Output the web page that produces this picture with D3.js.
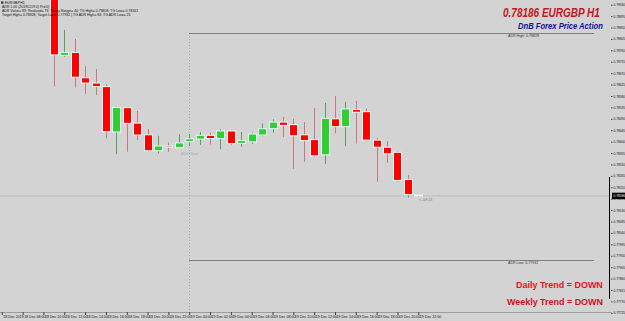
<!DOCTYPE html>
<html><head><meta charset="utf-8">
<script src="https://cdn.jsdelivr.net/npm/d3@7"></script>
<style>html,body{margin:0;padding:0;background:#d3d3d3;overflow:hidden}svg{display:block}</style>
</head><body>
<svg id="chart" width="625" height="321"></svg>
<script>
// ---- data ----
const times = ["2019-12-18T11:00","2019-12-18T12:00","2019-12-18T13:00","2019-12-18T14:00","2019-12-18T15:00","2019-12-18T16:00","2019-12-18T17:00","2019-12-18T18:00","2019-12-18T19:00","2019-12-18T20:00","2019-12-18T21:00","2019-12-18T22:00","2019-12-18T23:00",
"2019-12-19T00:00","2019-12-19T01:00","2019-12-19T02:00","2019-12-19T03:00","2019-12-19T04:00","2019-12-19T05:00","2019-12-19T06:00","2019-12-19T07:00","2019-12-19T08:00","2019-12-19T09:00","2019-12-19T10:00","2019-12-19T11:00","2019-12-19T12:00","2019-12-19T13:00","2019-12-19T14:00","2019-12-19T15:00","2019-12-19T16:00","2019-12-19T17:00","2019-12-19T18:00","2019-12-19T19:00","2019-12-19T20:00","2019-12-19T21:00","2019-12-19T22:00"];
const open  = [0.79000,0.78740,0.78752,0.78652,0.78631,0.78617,0.78438,0.78534,0.78473,0.78427,0.78364,0.78383,0.78376,0.78400,0.78410,0.78425,0.78412,0.78442,0.78393,0.78399,0.78426,0.78451,0.78477,0.78467,0.78427,0.78408,0.78348,0.78490,0.78459,0.78527,0.78518,0.78406,0.78378,0.78358,0.78251,0.78190];
const high  = [0.79020,0.78840,0.78805,0.78698,0.78686,0.78627,0.78538,0.78536,0.78521,0.78450,0.78423,0.78397,0.78429,0.78430,0.78438,0.78435,0.78449,0.78443,0.78438,0.78435,0.78471,0.78488,0.78498,0.78490,0.78477,0.78533,0.78553,0.78580,0.78556,0.78561,0.78530,0.78415,0.78402,0.78362,0.78268,0.78192];
const low   = [0.78617,0.78735,0.78614,0.78588,0.78584,0.78413,0.78351,0.78360,0.78406,0.78360,0.78354,0.78360,0.78374,0.78383,0.78387,0.78389,0.78370,0.78387,0.78380,0.78391,0.78421,0.78435,0.78419,0.78293,0.78321,0.78340,0.78312,0.78433,0.78383,0.78393,0.78403,0.78242,0.78317,0.78242,0.78179,0.78182];
const close = [0.78742,0.78752,0.78654,0.78631,0.78617,0.78439,0.78535,0.78472,0.78426,0.78364,0.78383,0.78378,0.78395,0.78411,0.78425,0.78412,0.78442,0.78392,0.78404,0.78430,0.78451,0.78477,0.78464,0.78423,0.78404,0.78344,0.78492,0.78459,0.78529,0.78516,0.78406,0.78378,0.78352,0.78247,0.78191,0.78186];
const priceTicks = [0.78940,0.78895,0.78850,0.78805,0.78760,0.78715,0.78670,0.78625,0.78580,0.78535,0.78490,0.78445,0.78400,0.78355,0.78310,0.78265,0.78220,0.78175,0.78130,0.78085,0.78040,0.77995,0.77950,0.77905,0.77860,0.77815,0.77770,0.77725];
const timeTicks = ["2019-12-18T06:00","2019-12-18T08:00","2019-12-18T10:00","2019-12-18T12:00","2019-12-18T14:00","2019-12-18T16:00","2019-12-18T18:00","2019-12-18T20:00","2019-12-18T22:00","2019-12-19T00:00","2019-12-19T02:00","2019-12-19T04:00","2019-12-19T06:00","2019-12-19T08:00","2019-12-19T10:00","2019-12-19T12:00","2019-12-19T14:00","2019-12-19T16:00","2019-12-19T18:00","2019-12-19T20:00","2019-12-19T22:00"];
const currentPrice = 0.78186;
const adrHigh = 0.78828, adrLow = 0.77932;
const adrStart = "2019-12-19T00:00";
const infoLines = ["EURGBP,H1","ADR 1.00 (20191219 0) Prd 0)","ADR Value= 89; Realized= 76; Today Range= 40; TG High= 0.78808; TG Low= 0.78161","Target High= 0.78828; Target Low= 0.77932 | TG ADR High= 84; TG ADR Low= 25"];

// ---- chart ----
const parse = d3.timeParse("%Y-%m-%dT%H:%M");
const bars = times.map((t,i)=>({t:parse(t),o:open[i],h:high[i],l:low[i],c:close[i]}));
const svg = d3.select("#chart");
const PW = 611, PH = 312;
const F = "'Liberation Sans', Arial, sans-serif";

svg.append("rect").attr("width",625).attr("height",321).attr("fill","#d3d3d3");

const x = d3.scaleTime().domain([parse(timeTicks[0]), parse(timeTicks[timeTicks.length-1])]).range([1.8, 418.3]);
const y = d3.scaleLinear().domain([0.77725, 0.78940]).range([312.8, 4.7]);

svg.append("clipPath").attr("id","clip").append("rect").attr("width",PW).attr("height",PH);
const plot = svg.append("g").attr("clip-path","url(#clip)");

// bid line
plot.append("line").attr("x1",0).attr("x2",PW).attr("y1",y(currentPrice)).attr("y2",y(currentPrice))
  .attr("stroke","#bcbcbc").attr("stroke-width",1);

// ADR start vertical
const xs = Math.round(x(parse(adrStart)))+0.5;
plot.append("line").attr("x1",xs).attr("x2",xs).attr("y1",y(adrHigh)).attr("y2",PH)
  .attr("stroke","#a4a4a4").attr("stroke-dasharray","1,2");
// ADR high/low
[adrHigh, adrLow].forEach(v=>{
  plot.append("line").attr("x1",xs).attr("x2",594).attr("y1",Math.round(y(v))+0.5).attr("y2",Math.round(y(v))+0.5)
    .attr("stroke","#2e2e2e").attr("stroke-dasharray","1,1");
});
plot.append("text").attr("x",508).attr("y",y(adrHigh)+4).attr("font-family",F).attr("font-size",3.6).attr("fill","#333")
  .text("ADR High: "+adrHigh.toFixed(5));
plot.append("text").attr("x",508).attr("y",y(adrLow)+4).attr("font-family",F).attr("font-size",3.6).attr("fill","#333")
  .text("ADR Low: "+adrLow.toFixed(5));
plot.append("text").attr("x",181).attr("y",154.5).attr("font-family",F).attr("font-size",3.8).attr("fill","#8fb4bf")
  .text("ADR Start");

// candles
const g = plot.selectAll("g.c").data(bars).join("g").attr("class","c");
g.append("line").attr("x1",d=>Math.round(x(d.t))+0.5).attr("x2",d=>Math.round(x(d.t))+0.5)
  .attr("y1",d=>y(d.h)).attr("y2",d=>y(d.l))
  .attr("stroke",d=>d.c>=d.o?"#5c9c5c":"#c87878").attr("stroke-width",1);
g.append("rect").attr("x",d=>Math.round(x(d.t))-3.5).attr("width",8)
  .attr("y",d=>y(Math.max(d.o,d.c))).attr("height",d=>Math.max(1,Math.abs(y(d.o)-y(d.c))))
  .attr("fill",d=>d.c>=d.o?"#32cd32":"#ff0000").attr("stroke","#e2fbfb").attr("stroke-width",1);

// timer label
plot.append("text").attr("x",x(bars[bars.length-1].t)+0.5).attr("y",y(currentPrice)+5.5).attr("font-family",F).attr("font-size",3.6).attr("fill","#777")
  .text("<--09:23");

// black range bar
plot.append("line").attr("x1",609.5).attr("x2",609.5).attr("y1",177).attr("y2",299).attr("stroke","#000").attr("stroke-width",1);

// info lines
infoLines.forEach((s,i)=>{
  svg.append("text").attr("x",i===0?5:2).attr("y",4.2+i*4).attr("font-family",F).attr("font-size",3.5).attr("fill","#111").text(s);
});
svg.append("rect").attr("x",1).attr("y",1.3).attr("width",2.5).attr("height",2.5).attr("fill","#444");

// titles: draw at natural size, then scale horizontally to the target width
function txt(s,xx,yy,size,col,len,italic){
  const t = svg.append("text").attr("x",0).attr("y",0).attr("font-family",F).attr("font-size",size)
   .attr("font-weight","bold").attr("font-style",italic?"italic":"normal").attr("fill",col).text(s);
  const w = t.node().getComputedTextLength();
  t.attr("transform",`translate(${xx},${yy}) scale(${len/w},1)`);
}
txt(currentPrice.toFixed(5)+" EURGBP H1",503,16.5,12,"#c3161c",97,true);
txt("DnB Forex Price Action",518,28.5,8.5,"#12128f",85,true);
txt("Daily Trend = DOWN",516,288,9.5,"#e8121b",87,false);
txt("Weekly Trend = DOWN",507,305,9.5,"#c8141e",96,false);

// frame
svg.append("line").attr("x1",0).attr("x2",PW).attr("y1",PH+0.5).attr("y2",PH+0.5).attr("stroke","#9c9c9c");

// axes
const fmt = d3.timeFormat("%-d %b %H:%M");
const xa = svg.append("g").attr("transform",`translate(0,${PH})`)
  .call(d3.axisBottom(x).tickValues(timeTicks.map(parse)).tickSize(3)
    .tickFormat((d,i)=> i===0 ? d3.timeFormat("%-d %b %Y")(d) : fmt(d)));
xa.select(".domain").remove();
xa.selectAll("line").attr("stroke","#444");
xa.selectAll("text").attr("text-anchor","start").attr("x",1).attr("y",3.2).attr("dy","0.9em")
  .attr("font-family",F).attr("font-size",3.6).attr("fill","#111");

const ya = svg.append("g").attr("transform",`translate(${PW},0)`)
  .call(d3.axisRight(y).tickValues(priceTicks).tickSize(1.5).tickFormat(d3.format(".5f")));
ya.select(".domain").remove();
ya.selectAll("line").attr("stroke","#444");
ya.selectAll("text").attr("x",2.5).attr("font-family",F).attr("font-size",3.2).attr("fill","#111");

// current price box
svg.append("rect").attr("x",612).attr("y",y(currentPrice)-3.2).attr("width",13).attr("height",6.4).attr("fill","#000");
svg.append("text").attr("x",613.5).attr("y",y(currentPrice)).attr("dy","0.35em").attr("font-family",F).attr("font-size",3.2).attr("fill","#fff").text(currentPrice.toFixed(5));
</script>
</body></html>
